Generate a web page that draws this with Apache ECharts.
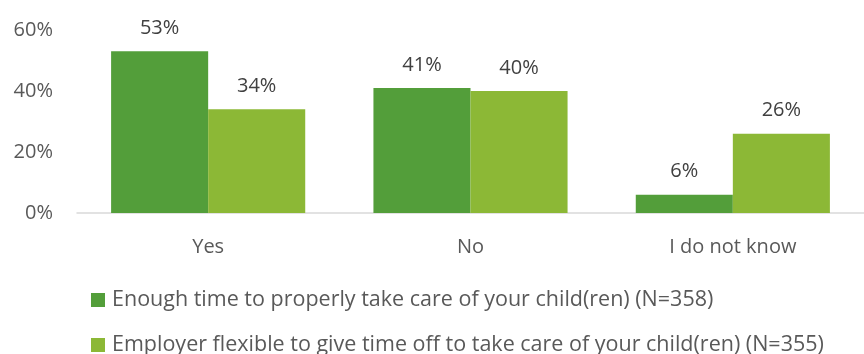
<!DOCTYPE html>
<html>
<head>
<meta charset="utf-8">
<script src="https://cdn.jsdelivr.net/npm/echarts@6/dist/echarts.min.js"></script>
<style>
  html, body { margin: 0; padding: 0; background: #fff; }
  #chart { width: 864px; height: 354px; }
</style>
</head>
<body>
<div id="chart"></div>
<script>
// Survey answers per category, in percent
const categories = ['Yes', 'No', 'I do not know'];
const enoughTime = [53, 41, 6];
const employerFlexible = [34, 40, 26];
const seriesNames = [
  'Enough time to properly take care of your child(ren) (N=358)',
  'Employer flexible to give time off to take care of your child(ren) (N=355)'
];
const yTicks = [0, 20, 40, 60];

const textColor = '#595959';
const fontFamily = '"Open Sans", "DejaVu Sans", sans-serif';

const chart = echarts.init(document.getElementById('chart'));

const labelStyle = {
  show: true,
  position: 'top',
  distance: 13,
  formatter: p => p.value + '%',
  color: '#404040',
  fontSize: 20,
  fontFamily
};

// one legend row per series, stacked below the plot
const legendRow = (name, top) => ({
  orient: 'horizontal',
  left: 91,
  top,
  padding: 0,
  itemWidth: 14,
  itemHeight: 14,
  icon: 'rect',
  textStyle: { color: textColor, fontSize: 21.5, fontFamily, padding: [0, 0, 0, 2] },
  data: [name]
});

chart.setOption({
  animation: false,
  grid: { left: 77, right: 0, top: 30, bottom: 141, containLabel: false },
  legend: [legendRow(seriesNames[0], 289), legendRow(seriesNames[1], 334)],
  xAxis: {
    type: 'category',
    data: categories,
    axisLine: { lineStyle: { color: '#d9d9d9', width: 1.5 } },
    axisTick: { show: false },
    axisLabel: { color: textColor, fontSize: 20, fontFamily, margin: 24 }
  },
  yAxis: {
    type: 'value',
    min: yTicks[0],
    max: yTicks[yTicks.length - 1],
    interval: 20,
    splitLine: { show: false },
    axisLine: { show: false },
    axisTick: { show: false },
    axisLabel: { color: textColor, fontSize: 20, fontFamily, margin: 24, formatter: v => v + '%' }
  },
  series: [
    {
      name: seriesNames[0],
      type: 'bar',
      data: enoughTime,
      barGap: '0%',
      barCategoryGap: '26%',
      itemStyle: { color: '#539e3a' },
      label: labelStyle
    },
    {
      name: seriesNames[1],
      type: 'bar',
      data: employerFlexible,
      barGap: '0%',
      barCategoryGap: '26%',
      itemStyle: { color: '#8cb836' },
      label: labelStyle
    }
  ]
});
</script>
</body>
</html>
